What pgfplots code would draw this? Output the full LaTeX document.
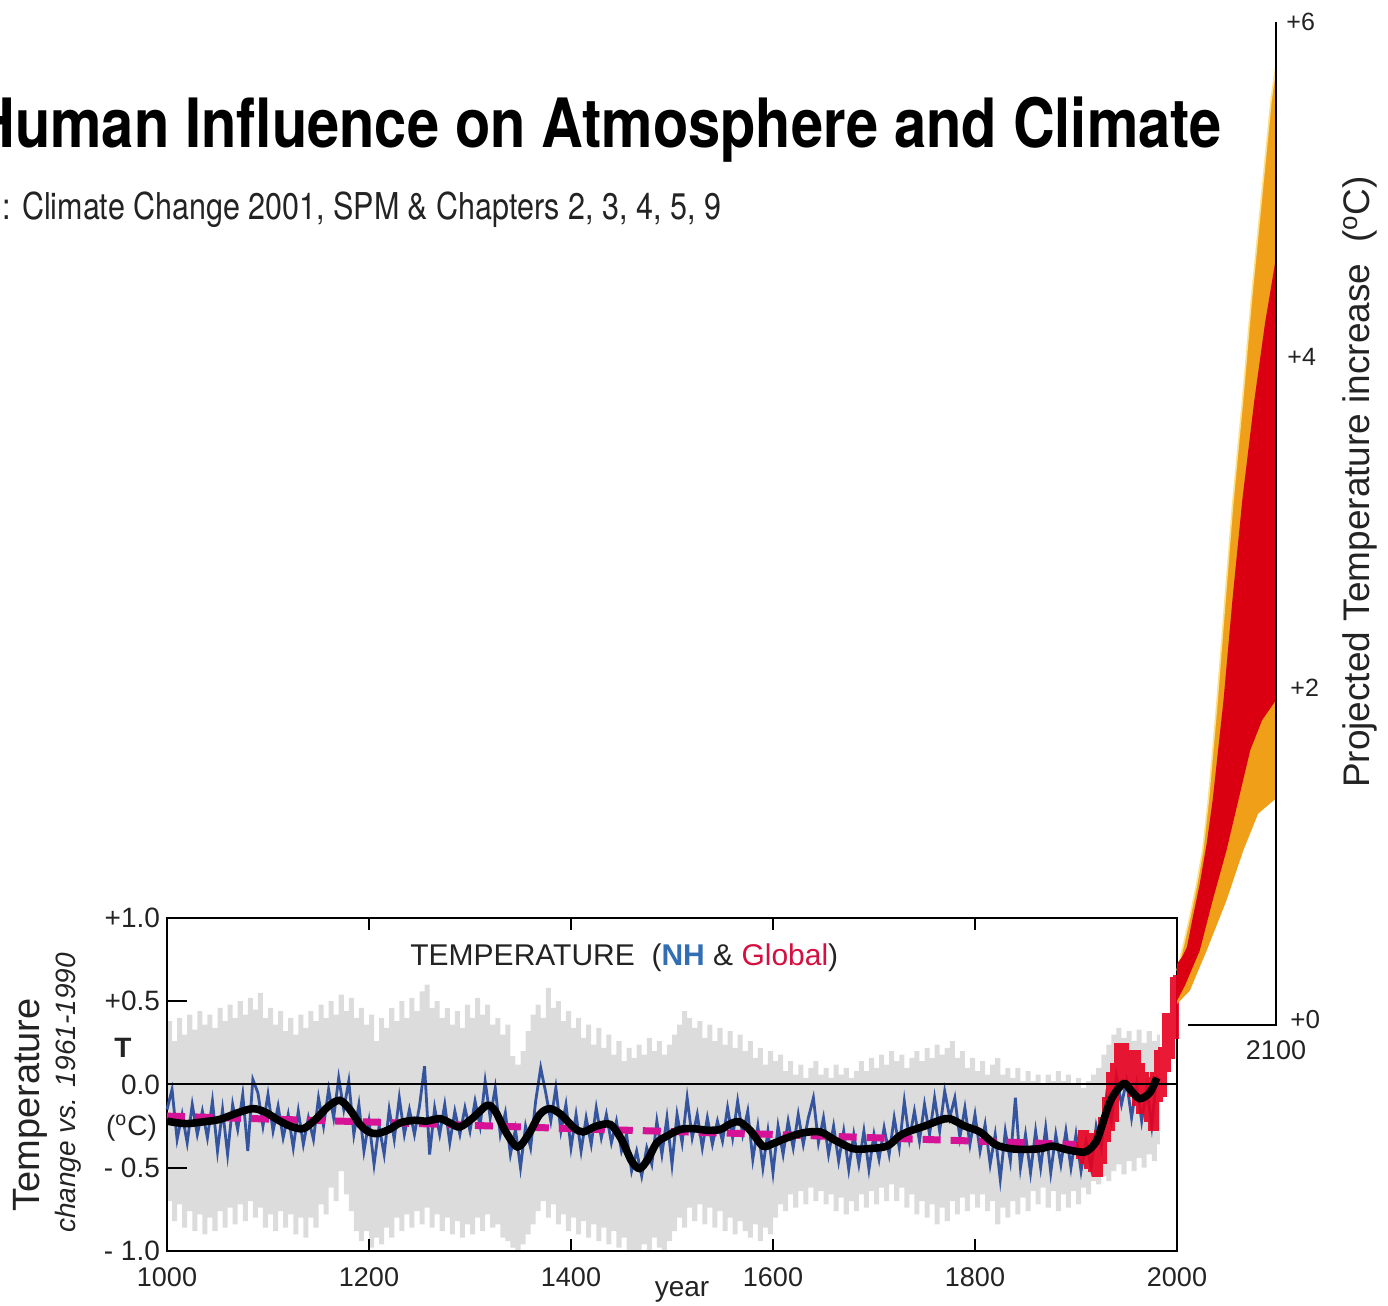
\documentclass[border=0pt]{standalone}
\usepackage{pgfplots}
\pgfplotsset{compat=1.18}
\usepgfplotslibrary{fillbetween}
\usepackage{fontspec}
\setmainfont{Liberation Sans}
\newfontfamily\heros{TeX Gyre Heros}
\definecolor{nhblue}{RGB}{52,84,158}
\definecolor{bandgray}{RGB}{220,220,220}
\definecolor{magentad}{RGB}{214,18,150}
\definecolor{instred}{RGB}{232,0,32}
\definecolor{fanred}{RGB}{218,0,18}
\definecolor{fanorange}{RGB}{240,160,24}
\definecolor{fanedge}{RGB}{250,225,140}
\definecolor{nhlabel}{RGB}{50,110,180}
\definecolor{globred}{RGB}{212,16,64}
\definecolor{txt}{RGB}{35,35,35}
\begin{document}
\begin{tikzpicture}[x=0.5pt,y=0.5pt]
% ---------------- main axis ----------------
\begin{axis}[
  at={(83.5pt,27.5pt)}, anchor=south west, scale only axis,
  width=505pt, height=166.5pt,
  xmin=1000, xmax=2000, ymin=-1, ymax=1,
  axis lines*=left, axis line style={draw=none},
  major tick length=0pt, tick style={draw=none},
  clip=false,
  xtick={1000,1200,1400,1600,1800,2000},
  xticklabels={1000,1200,1400,1600,1800,2000},
  ytick={-1,-0.5,0,0.5,1},
  yticklabels={- 1.0,- 0.5,0.0,+0.5,+1.0},
  yticklabel style={font=\fontsize{14}{16}\selectfont, text=txt},
  xticklabel style={font=\fontsize{13.5}{16}\selectfont, text=txt, anchor=center, yshift=-13pt},
]
% frame (under data)
\draw[line width=1.3pt] (axis cs:1000,-1) rectangle (axis cs:2000,1);
% uncertainty band
\addplot[draw=none, const plot, name path=gup, forget plot] coordinates {
(1000,0.38)(1005,0.26)(1010,0.40)(1015,0.30)(1020,0.42)(1025,0.33)(1030,0.44)(1035,0.36)(1040,0.42)(1045,0.34)(1050,0.46)(1055,0.38)(1060,0.48)(1065,0.40)(1070,0.50)(1075,0.42)(1080,0.52)(1085,0.45)(1090,0.55)(1095,0.40)(1100,0.46)(1105,0.36)(1110,0.44)(1115,0.32)(1120,0.40)(1125,0.30)(1130,0.42)(1135,0.34)(1140,0.44)(1145,0.38)(1150,0.48)(1155,0.40)(1160,0.50)(1165,0.42)(1170,0.54)(1175,0.44)(1180,0.52)(1185,0.40)(1190,0.46)(1195,0.36)(1200,0.42)(1205,0.26)(1210,0.40)(1215,0.34)(1220,0.46)(1225,0.38)(1230,0.50)(1235,0.40)(1240,0.52)(1245,0.44)(1250,0.56)(1255,0.60)(1260,0.46)(1265,0.50)(1270,0.40)(1275,0.46)(1280,0.36)(1285,0.44)(1290,0.34)(1295,0.48)(1300,0.40)(1305,0.52)(1310,0.42)(1315,0.48)(1320,0.36)(1325,0.40)(1330,0.30)(1335,0.36)(1340,0.17)(1345,0.12)(1350,0.20)(1355,0.32)(1360,0.42)(1365,0.48)(1370,0.40)(1375,0.58)(1380,0.46)(1385,0.50)(1390,0.38)(1395,0.44)(1400,0.34)(1405,0.40)(1410,0.28)(1415,0.36)(1420,0.24)(1425,0.34)(1430,0.22)(1435,0.30)(1440,0.18)(1445,0.26)(1450,0.14)(1455,0.22)(1460,0.16)(1465,0.24)(1470,0.18)(1475,0.28)(1480,0.20)(1485,0.26)(1490,0.18)(1495,0.24)(1500,0.30)(1505,0.36)(1510,0.44)(1515,0.40)(1520,0.34)(1525,0.38)(1530,0.28)(1535,0.36)(1540,0.26)(1545,0.34)(1550,0.24)(1555,0.32)(1560,0.22)(1565,0.30)(1570,0.20)(1575,0.26)(1580,0.16)(1585,0.22)(1590,0.12)(1595,0.20)(1600,0.14)(1605,0.18)(1610,0.08)(1615,0.14)(1620,0.06)(1625,0.12)(1630,0.04)(1635,0.10)(1640,0.14)(1645,0.06)(1650,0.10)(1655,0.04)(1660,0.12)(1665,0.06)(1670,0.10)(1675,0.04)(1680,0.08)(1685,0.14)(1690,0.08)(1695,0.16)(1700,0.10)(1705,0.18)(1710,0.12)(1715,0.20)(1720,0.14)(1725,0.18)(1730,0.10)(1735,0.16)(1740,0.20)(1745,0.14)(1750,0.22)(1755,0.16)(1760,0.24)(1765,0.18)(1770,0.22)(1775,0.26)(1780,0.16)(1785,0.20)(1790,0.10)(1795,0.16)(1800,0.08)(1805,0.14)(1810,0.06)(1815,0.12)(1820,0.16)(1825,0.06)(1830,0.10)(1835,0.04)(1840,0.10)(1845,0.02)(1850,0.08)(1855,0.02)(1860,0.06)(1865,0.00)(1870,0.06)(1875,0.02)(1880,0.08)(1885,0.02)(1890,0.06)(1895,0.00)(1900,0.04)(1905,-0.02)(1910,0.02)(1915,0.06)(1920,0.10)(1925,0.18)(1930,0.24)(1935,0.30)(1940,0.34)(1945,0.28)(1950,0.32)(1955,0.26)(1960,0.33)(1965,0.25)(1970,0.32)(1975,0.26)(1980,0.30)(1983,0.10)
};
\addplot[draw=none, const plot, name path=glo, forget plot] coordinates {
(1000,-0.70)(1005,-0.82)(1010,-0.72)(1015,-0.86)(1020,-0.76)(1025,-0.88)(1030,-0.78)(1035,-0.90)(1040,-0.80)(1045,-0.88)(1050,-0.76)(1055,-0.86)(1060,-0.74)(1065,-0.84)(1070,-0.72)(1075,-0.82)(1080,-0.70)(1085,-0.80)(1090,-0.74)(1095,-0.86)(1100,-0.78)(1105,-0.88)(1110,-0.76)(1115,-0.86)(1120,-0.78)(1125,-0.90)(1130,-0.80)(1135,-0.92)(1140,-0.80)(1145,-0.86)(1150,-0.72)(1155,-0.78)(1160,-0.62)(1165,-0.70)(1170,-0.52)(1175,-0.66)(1180,-0.76)(1185,-0.88)(1190,-0.94)(1195,-0.88)(1200,-0.98)(1205,-0.92)(1210,-0.96)(1215,-0.86)(1220,-0.92)(1225,-0.80)(1230,-0.88)(1235,-0.78)(1240,-0.86)(1245,-0.76)(1250,-0.84)(1255,-0.74)(1260,-0.86)(1265,-0.78)(1270,-0.88)(1275,-0.80)(1280,-0.90)(1285,-0.82)(1290,-0.92)(1295,-0.84)(1300,-0.90)(1305,-0.80)(1310,-0.88)(1315,-0.78)(1320,-0.86)(1325,-0.84)(1330,-0.92)(1335,-0.94)(1340,-0.98)(1345,-1.0)(1350,-0.96)(1355,-0.90)(1360,-0.84)(1365,-0.76)(1370,-0.70)(1375,-0.80)(1380,-0.72)(1385,-0.84)(1390,-0.78)(1395,-0.88)(1400,-0.80)(1405,-0.90)(1410,-0.82)(1415,-0.92)(1420,-0.84)(1425,-0.94)(1430,-0.86)(1435,-0.96)(1440,-0.88)(1445,-0.98)(1450,-0.92)(1455,-1.0)(1460,-1.0)(1465,-1.0)(1470,-0.96)(1475,-1.0)(1480,-0.92)(1485,-0.98)(1490,-1.0)(1495,-0.94)(1500,-0.88)(1505,-0.80)(1510,-0.86)(1515,-0.74)(1520,-0.82)(1525,-0.72)(1530,-0.84)(1535,-0.74)(1540,-0.86)(1545,-0.76)(1550,-0.88)(1555,-0.80)(1560,-0.90)(1565,-0.82)(1570,-0.88)(1575,-0.92)(1580,-0.84)(1585,-0.94)(1590,-0.86)(1595,-0.90)(1600,-0.80)(1605,-0.72)(1610,-0.76)(1615,-0.66)(1620,-0.74)(1625,-0.64)(1630,-0.72)(1635,-0.62)(1640,-0.70)(1645,-0.64)(1650,-0.72)(1655,-0.66)(1660,-0.76)(1665,-0.68)(1670,-0.78)(1675,-0.70)(1680,-0.76)(1685,-0.66)(1690,-0.74)(1695,-0.64)(1700,-0.72)(1705,-0.62)(1710,-0.70)(1715,-0.60)(1720,-0.70)(1725,-0.62)(1730,-0.74)(1735,-0.66)(1740,-0.78)(1745,-0.70)(1750,-0.80)(1755,-0.72)(1760,-0.84)(1765,-0.74)(1770,-0.82)(1775,-0.70)(1780,-0.78)(1785,-0.68)(1790,-0.76)(1795,-0.66)(1800,-0.74)(1805,-0.66)(1810,-0.76)(1815,-0.70)(1820,-0.84)(1825,-0.74)(1830,-0.80)(1835,-0.70)(1840,-0.78)(1845,-0.68)(1850,-0.76)(1855,-0.64)(1860,-0.72)(1865,-0.62)(1870,-0.74)(1875,-0.64)(1880,-0.76)(1885,-0.66)(1890,-0.74)(1895,-0.64)(1900,-0.72)(1905,-0.62)(1910,-0.66)(1915,-0.58)(1920,-0.60)(1925,-0.55)(1930,-0.58)(1935,-0.52)(1940,-0.48)(1945,-0.54)(1950,-0.46)(1955,-0.52)(1960,-0.44)(1965,-0.50)(1970,-0.42)(1975,-0.46)(1980,-0.36)(1983,-0.10)
};
\addplot[bandgray, draw=none] fill between[of=gup and glo];
% NH reconstruction
\addplot[nhblue, line width=1.4pt] coordinates {
(1000,-0.15)(1005,-0.03)(1010,-0.33)(1015,-0.18)(1020,-0.35)(1025,-0.12)(1030,-0.30)(1035,-0.16)(1040,-0.32)(1045,-0.10)(1050,-0.40)(1055,-0.15)(1060,-0.42)(1065,-0.12)(1070,-0.27)(1075,-0.06)(1080,-0.40)(1085,0.03)(1090,-0.05)(1095,-0.25)(1100,-0.06)(1105,-0.28)(1110,-0.13)(1115,-0.32)(1120,-0.18)(1125,-0.38)(1130,-0.16)(1135,-0.36)(1140,-0.20)(1145,-0.33)(1150,-0.08)(1155,-0.25)(1160,-0.03)(1165,-0.20)(1170,0.04)(1175,-0.15)(1180,0.02)(1185,-0.30)(1190,-0.12)(1195,-0.40)(1200,-0.22)(1205,-0.48)(1210,-0.25)(1215,-0.42)(1220,-0.15)(1225,-0.33)(1230,-0.08)(1235,-0.30)(1240,-0.15)(1245,-0.30)(1250,-0.13)(1255,0.11)(1260,-0.42)(1265,-0.14)(1270,-0.30)(1275,-0.12)(1280,-0.35)(1285,-0.16)(1290,-0.30)(1295,-0.14)(1300,-0.28)(1305,-0.10)(1310,-0.25)(1315,0.02)(1320,-0.20)(1325,-0.02)(1330,-0.30)(1335,-0.17)(1340,-0.42)(1345,-0.27)(1350,-0.50)(1355,-0.25)(1360,-0.38)(1365,-0.10)(1370,0.10)(1375,-0.05)(1380,-0.22)(1385,-0.02)(1390,-0.28)(1395,-0.12)(1400,-0.38)(1405,-0.18)(1410,-0.40)(1415,-0.20)(1420,-0.36)(1425,-0.14)(1430,-0.32)(1435,-0.18)(1440,-0.35)(1445,-0.22)(1450,-0.40)(1455,-0.30)(1460,-0.52)(1465,-0.40)(1470,-0.55)(1475,-0.38)(1480,-0.48)(1485,-0.22)(1490,-0.42)(1495,-0.20)(1500,-0.48)(1505,-0.18)(1510,-0.35)(1515,-0.08)(1520,-0.32)(1525,-0.18)(1530,-0.38)(1535,-0.20)(1540,-0.36)(1545,-0.22)(1550,-0.34)(1555,-0.14)(1560,-0.32)(1565,-0.10)(1570,-0.30)(1575,-0.16)(1580,-0.45)(1585,-0.25)(1590,-0.50)(1595,-0.28)(1600,-0.53)(1605,-0.25)(1610,-0.42)(1615,-0.22)(1620,-0.38)(1625,-0.18)(1630,-0.36)(1635,-0.20)(1640,-0.08)(1645,-0.35)(1650,-0.20)(1655,-0.42)(1660,-0.25)(1665,-0.46)(1670,-0.28)(1675,-0.51)(1680,-0.30)(1685,-0.48)(1690,-0.28)(1695,-0.51)(1700,-0.30)(1705,-0.45)(1710,-0.26)(1715,-0.42)(1720,-0.20)(1725,-0.38)(1730,-0.10)(1735,-0.33)(1740,-0.16)(1745,-0.34)(1750,-0.12)(1755,-0.30)(1760,-0.08)(1765,-0.28)(1770,-0.04)(1775,-0.20)(1780,-0.08)(1785,-0.32)(1790,-0.14)(1795,-0.36)(1800,-0.18)(1805,-0.40)(1810,-0.24)(1815,-0.48)(1820,-0.30)(1825,-0.57)(1830,-0.28)(1835,-0.46)(1840,-0.08)(1845,-0.50)(1850,-0.30)(1855,-0.53)(1860,-0.28)(1865,-0.50)(1870,-0.26)(1875,-0.53)(1880,-0.30)(1885,-0.48)(1890,-0.28)(1895,-0.50)(1900,-0.30)(1905,-0.52)(1910,-0.34)(1915,-0.50)(1920,-0.25)(1925,-0.38)(1930,-0.08)(1935,-0.22)(1940,0.05)(1945,-0.12)(1950,0.02)(1955,-0.20)(1960,0.00)(1965,-0.22)(1970,-0.02)(1975,-0.25)(1980,0.05)
};
% instrumental record
\addplot[instred, line width=4.5pt, opacity=0.9, const plot] coordinates {
(1902,-0.35)(1904,-0.42)(1906,-0.30)(1908,-0.45)(1910,-0.40)(1912,-0.48)(1914,-0.32)(1916,-0.50)(1918,-0.38)(1920,-0.53)(1922,-0.30)(1924,-0.45)(1926,-0.22)(1928,-0.32)(1930,-0.10)(1932,-0.25)(1934,0.05)(1936,-0.20)(1938,0.10)(1940,0.00)(1942,0.22)(1944,0.08)(1946,0.22)(1948,0.05)(1950,0.18)(1952,0.02)(1954,0.15)(1956,-0.05)(1958,0.18)(1960,-0.10)(1962,0.10)(1964,-0.15)(1966,0.05)(1968,-0.12)(1970,0.02)(1972,-0.20)(1974,-0.05)(1976,-0.25)(1978,0.05)(1980,-0.08)(1982,0.18)(1984,-0.05)(1986,0.20)(1988,0.10)(1990,0.40)(1992,0.18)(1994,0.35)(1996,0.30)(1998,0.62)(2000,0.66)
};
% linear trend
\addplot[magentad, line width=3.5pt, dash pattern=on 9pt off 5pt] coordinates {
(1000,-0.19)(1200,-0.225)(1400,-0.265)(1600,-0.30)(1800,-0.34)(1900,-0.36)
};
% smoothed series
\addplot[black, line width=3.8pt, smooth, tension=0.5] coordinates {
(1000,-0.22)(1010,-0.23)(1020,-0.235)(1035,-0.225)(1052,-0.21)(1070,-0.17)(1085,-0.145)(1097,-0.165)(1109,-0.21)(1122,-0.25)(1135,-0.265)(1147,-0.21)(1160,-0.13)(1171,-0.095)(1181,-0.15)(1191,-0.24)(1200,-0.285)(1208,-0.295)(1220,-0.27)(1231,-0.23)(1245,-0.215)(1257,-0.22)(1270,-0.205)(1280,-0.23)(1290,-0.255)(1303,-0.20)(1317,-0.125)(1325,-0.16)(1335,-0.28)(1347,-0.375)(1358,-0.30)(1369,-0.18)(1379,-0.145)(1390,-0.18)(1403,-0.26)(1412,-0.285)(1425,-0.25)(1439,-0.24)(1450,-0.33)(1460,-0.46)(1468,-0.505)(1476,-0.45)(1485,-0.35)(1495,-0.31)(1508,-0.27)(1521,-0.265)(1535,-0.275)(1548,-0.27)(1558,-0.235)(1567,-0.225)(1578,-0.28)(1590,-0.37)(1600,-0.355)(1614,-0.32)(1630,-0.29)(1647,-0.285)(1660,-0.33)(1679,-0.385)(1695,-0.385)(1713,-0.37)(1725,-0.31)(1733,-0.285)(1750,-0.25)(1765,-0.215)(1775,-0.205)(1790,-0.25)(1805,-0.285)(1820,-0.36)(1835,-0.385)(1850,-0.39)(1865,-0.385)(1877,-0.37)(1890,-0.39)(1904,-0.405)(1911,-0.40)(1921,-0.33)(1934,-0.10)(1947,0.005)(1955,-0.04)(1963,-0.085)(1973,-0.05)(1980,0.04)
};
% zero line and ticks (over data)
\draw[line width=1pt] (axis cs:1000,0) -- (axis cs:2000,0);
\pgfplotsinvokeforeach{1200,1400,1600,1800}{
  \draw[line width=0.8pt] (axis cs:#1,1) -- (axis cs:#1,0.93);
  \draw[line width=0.8pt] (axis cs:#1,-1) -- (axis cs:#1,-0.93);
}
\draw[line width=1pt] (axis cs:1000,0.5) -- (axis cs:1020,0.5);
\draw[line width=1pt] (axis cs:1000,-0.5) -- (axis cs:1020,-0.5);
\end{axis}
% ---------------- projection axis ----------------
\begin{axis}[
  at={(588.5pt,141pt)}, anchor=south west, scale only axis,
  width=49.5pt, height=501pt,
  xmin=2000, xmax=2100, ymin=0, ymax=6,
  hide axis, clip=false,
]
\addplot[fill=fanorange, draw=none] coordinates {
(2000,0.32)(2006,0.46)(2013,0.64)(2020,0.84)(2026,1.04)(2032,1.36)(2040,1.90)(2048,2.50)(2056,3.10)(2066,3.72)(2075,4.33)(2085,4.93)(2095,5.53)(2100,5.74)
(2100,1.35)(2090,1.30)(2082,1.26)(2067,1.04)(2050,0.74)(2030,0.44)(2013,0.20)(2000,0.12)
} -- cycle;
\addplot[fanedge, line width=0.8pt] coordinates {
(2000,0.32)(2006,0.46)(2013,0.64)(2020,0.84)(2026,1.04)(2032,1.36)(2040,1.90)(2048,2.50)(2056,3.10)(2066,3.72)(2075,4.33)(2085,4.93)(2095,5.53)(2100,5.74)
};
\addplot[fill=fanred, draw=none] coordinates {
(2000,0.36)(2005,0.40)(2010,0.46)(2016,0.64)(2023,0.84)(2030,1.08)(2036,1.34)(2047,1.94)(2056,2.54)(2066,3.14)(2078,3.73)(2089,4.20)(2100,4.59)
(2100,1.94)(2086,1.82)(2074,1.64)(2062,1.34)(2050,1.04)(2036,0.74)(2023,0.44)(2008,0.23)(2000,0.14)
} -- cycle;
\end{axis}
% projection axis lines
\draw[line width=0.8pt] (1276,1284) -- (1276,281) -- (1188,281);
% ---------------- text ----------------
\node[anchor=base east, xscale=0.85, inner sep=0] at (1222,1158)
  {\heros\bfseries\fontsize{34}{40}\selectfont Human Influence on Atmosphere and Climate};
\node[anchor=base west, xscale=0.824, inner sep=0, text=txt] at (2,1086)
  {\heros\fontsize{18.5}{22}\selectfont : Climate Change 2001, SPM \& Chapters 2, 3, 4, 5, 9};
\node[anchor=west, inner sep=0, text=txt] at (410,348)
  {\fontsize{15}{17}\selectfont TEMPERATURE\ \ (\textcolor{nhlabel}{\bfseries NH} \& \textcolor{globred}{Global})};
\node[rotate=90, text=txt] at (30,201) {\fontsize{19}{22}\selectfont Temperature};
\node[rotate=90, text=txt] at (68,213) {\itshape\fontsize{14}{16}\selectfont change vs. 1961-1990};
\node[text=txt] at (123,258) {\bfseries\fontsize{14}{16}\selectfont T};
\node[anchor=east, text=txt] at (164,178) {\fontsize{14}{16}\selectfont (\textsuperscript{o}C)};
\node[text=txt] at (682,14) {\fontsize{14}{16}\selectfont year};
\node[anchor=west, inner sep=0, text=txt] at (1286,1284) {\fontsize{12.5}{14}\selectfont +6};
\node[anchor=west, inner sep=0, text=txt] at (1287,949) {\fontsize{12.5}{14}\selectfont +4};
\node[anchor=west, inner sep=0, text=txt] at (1290,618) {\fontsize{12.5}{14}\selectfont +2};
\node[anchor=west, inner sep=0, text=txt] at (1290,286) {\fontsize{13}{15}\selectfont +0};
\node[text=txt] at (1276,256) {\fontsize{13.5}{15}\selectfont 2100};
\node[rotate=90, text=txt] at (1360,824)
  {\fontsize{18.5}{22}\selectfont Projected Temperature increase\ \ (\textsuperscript{o}C)};
\pgfresetboundingbox
\useasboundingbox (0,0) rectangle (1388,1306);
\end{tikzpicture}
\end{document}
